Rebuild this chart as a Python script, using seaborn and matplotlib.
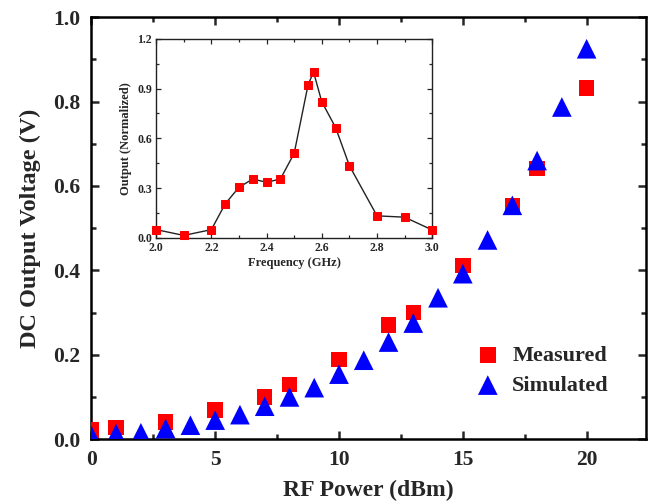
import numpy as np
import pandas as pd
import matplotlib
matplotlib.use('Agg')
import matplotlib.pyplot as plt
import seaborn as sns
from matplotlib.ticker import MultipleLocator

# Data
power_meas = [0, 1, 3, 5, 7, 8, 10, 12, 13, 15, 17, 18, 20]
volt_meas = [0.022, 0.027, 0.041, 0.069, 0.100, 0.129, 0.189, 0.270, 0.300, 0.411, 0.553, 0.641, 0.832]

power_sim = [0, 1, 2, 3, 4, 5, 6, 7, 8, 9, 10, 11, 12, 13, 14, 15, 16, 17, 18, 19, 20]
volt_sim = [0.009, 0.013, 0.015, 0.025, 0.033, 0.045, 0.058, 0.078, 0.100, 0.122, 0.154,
            0.187, 0.230, 0.275, 0.335, 0.392, 0.472, 0.554, 0.660, 0.787, 0.925]

freq = [2.0, 2.1, 2.2, 2.25, 2.3, 2.35, 2.4, 2.45, 2.5, 2.55, 2.57, 2.6, 2.65, 2.7, 2.8, 2.9, 3.0]
out_norm = [0.05, 0.015, 0.05, 0.205, 0.305, 0.355, 0.335, 0.355, 0.51, 0.92, 1.0, 0.82,
            0.665, 0.435, 0.133, 0.125, 0.048]

sns.set_style('ticks')
plt.rcParams['font.family'] = ['Liberation Serif', 'DejaVu Serif']
plt.rcParams['font.weight'] = 'bold'
plt.rcParams['axes.labelweight'] = 'bold'

fig = plt.figure(figsize=(6.48, 5.03), dpi=100)
ax = fig.add_axes([0.141, 0.127, 0.856, 0.839])

sns.scatterplot(x=power_meas, y=volt_meas, ax=ax, marker='s', color='#FF0000', s=125,
                edgecolor='none', label='Measured', zorder=3)
sns.scatterplot(x=power_sim, y=volt_sim, ax=ax, marker='^', color='#0000FF', s=200,
                edgecolor='none', label='Simulated', zorder=4)

ax.set_xlim(0, 22.4)
ax.set_ylim(0, 1.0)
ax.xaxis.set_major_locator(MultipleLocator(5))
ax.xaxis.set_minor_locator(MultipleLocator(2.5))
ax.yaxis.set_major_locator(MultipleLocator(0.2))
ax.yaxis.set_minor_locator(MultipleLocator(0.1))
ax.yaxis.set_major_formatter(matplotlib.ticker.FormatStrFormatter('%.1f'))
ax.tick_params(which='both', direction='in', top=True, right=True, width=1.8)
ax.tick_params(which='major', length=6, labelsize=15.5, pad=8)
ax.tick_params(which='minor', length=3.5)
for sp in ax.spines.values():
    sp.set_linewidth(1.8)
    sp.set_color('black')
ax.set_xlabel('RF Power (dBm)', fontsize=17, labelpad=7)
ax.set_ylabel('DC Output Voltage (V)', fontsize=17.5, labelpad=9)

leg = ax.legend(loc='lower right', bbox_to_anchor=(0.969, 0.055), frameon=False, fontsize=16,
                handlelength=1.5, handletextpad=0.35, labelspacing=0.42, markerscale=1.0)

# inset: normalized output vs frequency
axin = fig.add_axes([0.241, 0.527, 0.426, 0.396])
sns.lineplot(x=freq, y=out_norm, ax=axin, color='#222222', linewidth=1.0, marker='s',
             markersize=5.5, markerfacecolor='#FF0000', markeredgecolor='#FF0000',
             clip_on=False, zorder=3)
axin.set_xlim(2.0, 3.0)
axin.set_ylim(0, 1.2)
axin.xaxis.set_major_locator(MultipleLocator(0.2))
axin.xaxis.set_minor_locator(MultipleLocator(0.1))
axin.yaxis.set_major_locator(MultipleLocator(0.3))
axin.yaxis.set_minor_locator(MultipleLocator(0.15))
axin.xaxis.set_major_formatter(matplotlib.ticker.FormatStrFormatter('%.1f'))
axin.yaxis.set_major_formatter(matplotlib.ticker.FormatStrFormatter('%.1f'))
axin.tick_params(which='both', direction='in', top=True, right=True, width=0.9)
axin.tick_params(which='major', length=3.5, labelsize=8.5, pad=3)
axin.tick_params(which='minor', length=2)
for sp in axin.spines.values():
    sp.set_linewidth(1.0)
    sp.set_color('#222222')
axin.set_xlabel('Frequency (GHz)', fontsize=9, labelpad=2)
axin.set_ylabel('Output (Normalized)', fontsize=9, labelpad=4)

fig.savefig('out.png', dpi=100)
